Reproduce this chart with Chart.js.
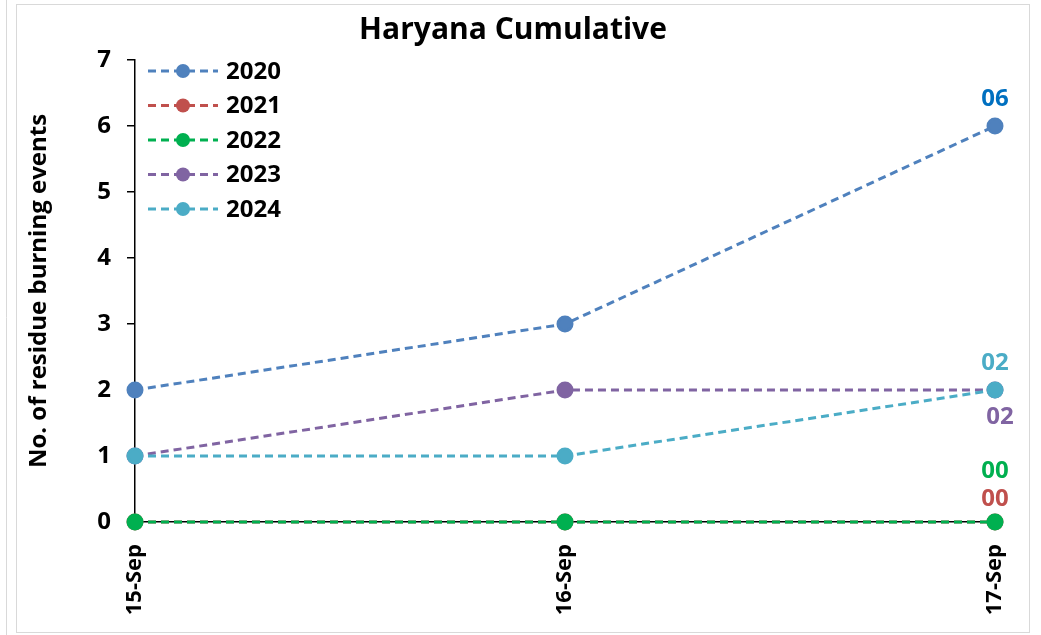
<!DOCTYPE html>
<html>
<head>
<meta charset="utf-8">
<script src="https://cdn.jsdelivr.net/npm/chart.js@4.4.3/dist/chart.umd.min.js"></script>
<style>
    html, body { margin: 0; padding: 0; background: #fff; }
    #wrap { width: 1041px; height: 635px; position: relative; }
</style>
</head>
<body>
<div id="wrap"><canvas id="chart"></canvas></div>
<script>
const categories = ['15-Sep', '16-Sep', '17-Sep'];
const seriesNames = ['2020', '2021', '2022', '2023', '2024'];
const values2020 = [2, 3, 6];
const values2021 = [0, 0, 0];
const values2022 = [0, 0, 0];
const values2023 = [1, 2, 2];
const values2024 = [1, 1, 2];
const yTicks = [0, 1, 2, 3, 4, 5, 6, 7];

const FONT = '"Open Sans", Lato, sans-serif';
const colors = ['#4f81bd', '#c0504d', '#00b050', '#8064a2', '#4bacc6'];
const labelColors = ['#0070c0', '#c0504d', '#00b050', '#8064a2', '#4bacc6'];
// offsets of the end-of-line value labels
const labelOffsets = [[0, -27], [0, -23], [0, -51], [5, 27], [0, -27]];

const allValues = [values2020, values2021, values2022, values2023, values2024];

const datasets = allValues.map((vals, i) => ({
    label: seriesNames[i],
    data: vals,
    borderColor: colors[i],
    backgroundColor: colors[i],
    pointBackgroundColor: colors[i],
    pointBorderColor: colors[i],
    borderWidth: 3,
    borderDash: [8, 5],
    pointRadius: 7,
    pointHoverRadius: 7,
    tension: 0,
    clip: false,
    order: seriesNames.length - 1 - i
}));

const framePlugin = {
    id: 'frame',
    beforeDraw(chart) {
        const ctx = chart.ctx;
        ctx.save();
        ctx.fillStyle = '#fff';
        ctx.fillRect(0, 0, chart.width, chart.height);
        ctx.strokeStyle = '#d9d9d9';
        ctx.lineWidth = 1;
        ctx.strokeRect(16.5, 4.5, 1013, 628);
        ctx.beginPath();
        ctx.moveTo(6.5, 0);
        ctx.lineTo(6.5, 635);
        ctx.stroke();
        ctx.restore();
    }
};

const overlayPlugin = {
    id: 'overlay',
    afterDraw(chart) {
        const ctx = chart.ctx;
        const xs = chart.scales.x;
        const ys = chart.scales.y;
        ctx.save();

        // title
        ctx.fillStyle = '#000';
        ctx.font = 'bold 30px ' + FONT;
        ctx.textAlign = 'center';
        ctx.textBaseline = 'middle';
        ctx.fillText('Haryana Cumulative', 513, 30);

        // legend inside plot area
        const lx = 148, ly = 71, step = 34.5;
        seriesNames.forEach((name, i) => {
            const y = ly + i * step;
            ctx.strokeStyle = colors[i];
            ctx.lineWidth = 3;
            ctx.setLineDash([8, 5]);
            ctx.beginPath();
            ctx.moveTo(lx, y);
            ctx.lineTo(lx + 70, y);
            ctx.stroke();
            ctx.setLineDash([]);
            ctx.fillStyle = colors[i];
            ctx.beginPath();
            ctx.arc(lx + 35, y, 7, 0, Math.PI * 2);
            ctx.fill();
            ctx.fillStyle = '#000';
            ctx.font = 'bold 24px ' + FONT;
            ctx.textAlign = 'left';
            ctx.fillText(name, lx + 78, y + 1);
        });

        // value labels at the last point
        const last = categories.length - 1;
        ctx.font = 'bold 24px ' + FONT;
        ctx.textAlign = 'center';
        allValues.forEach((vals, i) => {
            const v = vals[last];
            const px = xs.getPixelForValue(last) + labelOffsets[i][0];
            const py = ys.getPixelForValue(v) + labelOffsets[i][1];
            ctx.fillStyle = labelColors[i];
            ctx.fillText(String(v).padStart(2, '0'), px, py);
        });
        ctx.restore();
    }
};

new Chart(document.getElementById('chart'), {
    type: 'line',
    data: { labels: categories, datasets: datasets },
    options: {
        responsive: true,
        maintainAspectRatio: false,
        animation: false,
        layout: { padding: { top: 60, right: 46, left: 0, bottom: 0 } },
        plugins: {
            legend: { display: false },
            title: { display: false },
            tooltip: { enabled: false }
        },
        scales: {
            x: {
                offset: false,
                grid: { display: false },
                border: { display: true, color: '#000', width: 1.5 },
                ticks: {
                    color: '#000',
                    font: { family: FONT, size: 22, weight: 'bold' },
                    minRotation: 90,
                    maxRotation: 90,
                    padding: 14
                },
                afterFit(scale) { scale.height = 113; }
            },
            y: {
                min: 0,
                max: 7,
                afterBuildTicks(scale) { scale.ticks = yTicks.map(v => ({ value: v })); },
                grid: { drawOnChartArea: false, drawTicks: true, tickLength: 8, color: '#000', lineWidth: 1.5 },
                border: { display: true, color: '#000', width: 1.5 },
                ticks: {
                    color: '#000',
                    font: { family: FONT, size: 24, weight: 'bold' },
                    padding: 16
                },
                title: {
                    display: true,
                    text: 'No. of residue burning events',
                    color: '#000',
                    font: { family: FONT, size: 24, weight: 'bold' },
                    padding: { top: 25, bottom: 0 }
                },
                afterFit(scale) { scale.width = 135; }
            }
        }
    },
    plugins: [framePlugin, overlayPlugin]
});
</script>
</body>
</html>
